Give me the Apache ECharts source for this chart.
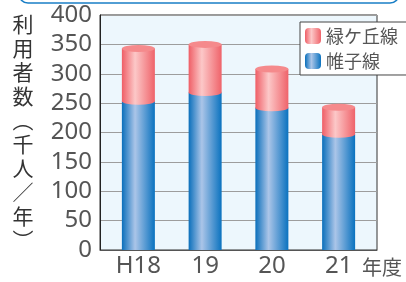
<!DOCTYPE html>
<html>
<head>
<meta charset="utf-8">
<script src="https://cdn.jsdelivr.net/npm/echarts@6/dist/echarts.min.js"></script>
<style>
  html, body { margin: 0; padding: 0; background: #fff; }
  #chart { width: 406px; height: 282px; }
</style>
</head>
<body>
<div id="chart"></div>
<script>
const categories = ['H18', '19', '20', '21'];
const kataboraLine = [253, 268, 242, 197];   // 帷子線
const midorigaokaLine = [90, 82, 66, 46];    // 緑ケ丘線
const totals = categories.map((c, i) => kataboraLine[i] + midorigaokaLine[i]);

const font = "'Noto Sans CJK JP', 'Noto Sans', sans-serif";
const numFont = "'Noto Sans', sans-serif";

const blueGrad = new echarts.graphic.LinearGradient(0, 0, 1, 0, [
  { offset: 0, color: '#0a6fbb' },
  { offset: 0.4, color: '#abc5e8' },
  { offset: 1, color: '#0a72bf' }
]);
const pinkGrad = new echarts.graphic.LinearGradient(0, 0, 1, 0, [
  { offset: 0, color: '#ef5e66' },
  { offset: 0.4, color: '#fcc8c8' },
  { offset: 1, color: '#ef636a' }
]);

const chart = echarts.init(document.getElementById('chart'));

// 枠・目盛り用のグリッドと、棒を置くグリッド(左右に少し余白)
const option = {
  animation: false,
  textStyle: { fontFamily: font },
  grid: [
    {
      left: 100, right: 29, top: 15, bottom: 32,
      show: true,
      backgroundColor: '#edf7fd',
      borderColor: '#333',
      borderWidth: 1
    },
    { left: 105, right: 34, top: 15, bottom: 32 }
  ],
  legend: {
    orient: 'vertical',
    left: 300,
    top: 22,
    padding: [5, 12, 5, 5],
    itemWidth: 16,
    itemHeight: 16,
    itemGap: 7,
    backgroundColor: '#fff',
    borderColor: '#444',
    borderWidth: 1,
    borderRadius: 0,
    data: ['緑ケ丘線', '帷子線'],
    textStyle: { fontSize: 18, color: '#555', fontFamily: font }
  },
  xAxis: [
    {
      type: 'category',
      gridIndex: 0,
      data: categories,
      axisLine: { lineStyle: { color: '#555', width: 1 } },
      axisTick: { show: false },
      axisLabel: { show: false }
    },
    {
      type: 'category',
      gridIndex: 1,
      data: categories,
      axisLine: { show: false },
      axisTick: { show: false },
      axisLabel: { fontSize: 24, color: '#555', margin: 4, fontFamily: numFont }
    }
  ],
  yAxis: [
    {
      type: 'value',
      gridIndex: 0,
      min: 0,
      max: 400,
      interval: 50,
      axisLine: { show: true, lineStyle: { color: '#222', width: 1 } },
      axisTick: { show: false },
      axisLabel: { fontSize: 24, color: '#555', margin: 8, fontFamily: numFont },
      splitLine: { lineStyle: { color: '#9d9d9d', width: 1 } }
    },
    {
      type: 'value',
      gridIndex: 1,
      min: 0,
      max: 400,
      interval: 50,
      show: false
    }
  ],
  series: [
    {
      name: '帷子線',
      type: 'bar',
      xAxisIndex: 1,
      yAxisIndex: 1,
      stack: 'total',
      barWidth: 33,
      itemStyle: { color: blueGrad },
      data: kataboraLine
    },
    {
      name: '緑ケ丘線',
      type: 'bar',
      xAxisIndex: 1,
      yAxisIndex: 1,
      stack: 'total',
      barWidth: 33,
      itemStyle: { color: pinkGrad },
      data: midorigaokaLine
    },
    {
      // 境目の楕円
      type: 'pictorialBar',
      xAxisIndex: 1,
      yAxisIndex: 1,
      symbol: 'circle',
      symbolSize: [33, 7],
      symbolPosition: 'end',
      symbolOffset: [0, '-50%'],
      barGap: '-100%',
      z: 5,
      itemStyle: { color: pinkGrad },
      data: kataboraLine
    },
    {
      // 上面の楕円
      type: 'pictorialBar',
      xAxisIndex: 1,
      yAxisIndex: 1,
      symbol: 'circle',
      symbolSize: [33, 7],
      symbolPosition: 'end',
      symbolOffset: [0, '-50%'],
      barGap: '-100%',
      z: 6,
      itemStyle: { color: '#f58a8c' },
      data: totals
    }
  ],
  graphic: [
    {
      type: 'rect',
      shape: { x: 19, y: -20, width: 380, height: 23, r: 9 },
      style: { fill: 'none', stroke: '#1a7fc6', lineWidth: 1.5 }
    },
    {
      type: 'text',
      x: 23,
      y: 12,
      style: {
        text: ['利', '用', '者', '数', '︵', '千', '人', '／', '年', '︶'].join('\n'),
        font: "21px 'Noto Sans CJK JP'",
        lineHeight: 24,
        fill: '#333',
        align: 'center',
        verticalAlign: 'top'
      }
    },
    {
      type: 'text',
      x: 362,
      y: 267,
      style: {
        text: '年度',
        font: "20px 'Noto Sans CJK JP'",
        fill: '#555',
        align: 'left',
        verticalAlign: 'middle'
      }
    }
  ]
};

chart.setOption(option);
window.addEventListener('resize', () => chart.resize());
</script>
</body>
</html>
